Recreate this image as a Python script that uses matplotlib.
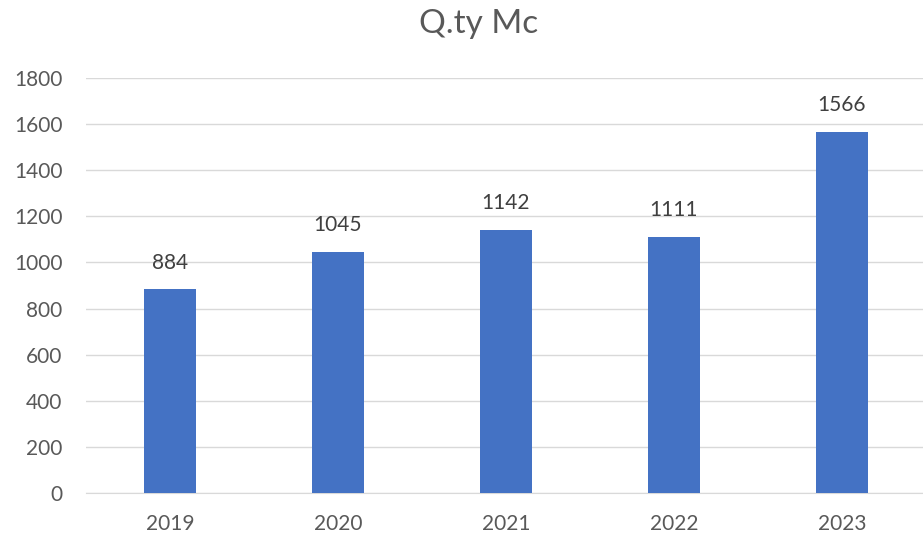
import matplotlib
matplotlib.use('Agg')
import matplotlib.pyplot as plt
import numpy as np

# data
years = ["2019", "2020", "2021", "2022", "2023"]
qty = [884, 1045, 1142, 1111, 1566]
y_ticks = [0, 200, 400, 600, 800, 1000, 1200, 1400, 1600, 1800]

plt.rcParams['font.family'] = ['Lato', 'DejaVu Sans']

fig = plt.figure(figsize=(9.23, 5.35), dpi=100)
ax = fig.add_axes([86 / 923, 42 / 535, 840 / 923, 415 / 535])

x_pos = np.arange(len(years))
bars = ax.bar(x_pos, qty, width=0.31, color='#4472C4', zorder=3)

for bar, v in zip(bars, qty):
    ax.text(bar.get_x() + bar.get_width() / 2, v + 72, str(v),
            ha='center', va='bottom', fontsize=15, color='#404040')

ax.set_xlim(-0.5, len(years) - 0.5)
ax.set_ylim(0, 1800)
ax.set_yticks(y_ticks)
ax.set_xticks(x_pos)
ax.set_xticklabels(years)
ax.tick_params(axis='both', length=0, labelsize=15, labelcolor='#595959')
ax.tick_params(axis='y', pad=17)
ax.tick_params(axis='x', pad=15)

ax.grid(axis='y', color='#D9D9D9', linewidth=1, zorder=0)
for s in ['top', 'right', 'left']:
    ax.spines[s].set_visible(False)
ax.spines['bottom'].set_color('#D9D9D9')

fig.text(479 / 923, 1 - 24 / 535, 'Q.ty Mc', ha='center', va='center',
         fontsize=24, color='#595959')

fig.savefig('out.png', dpi=100)
